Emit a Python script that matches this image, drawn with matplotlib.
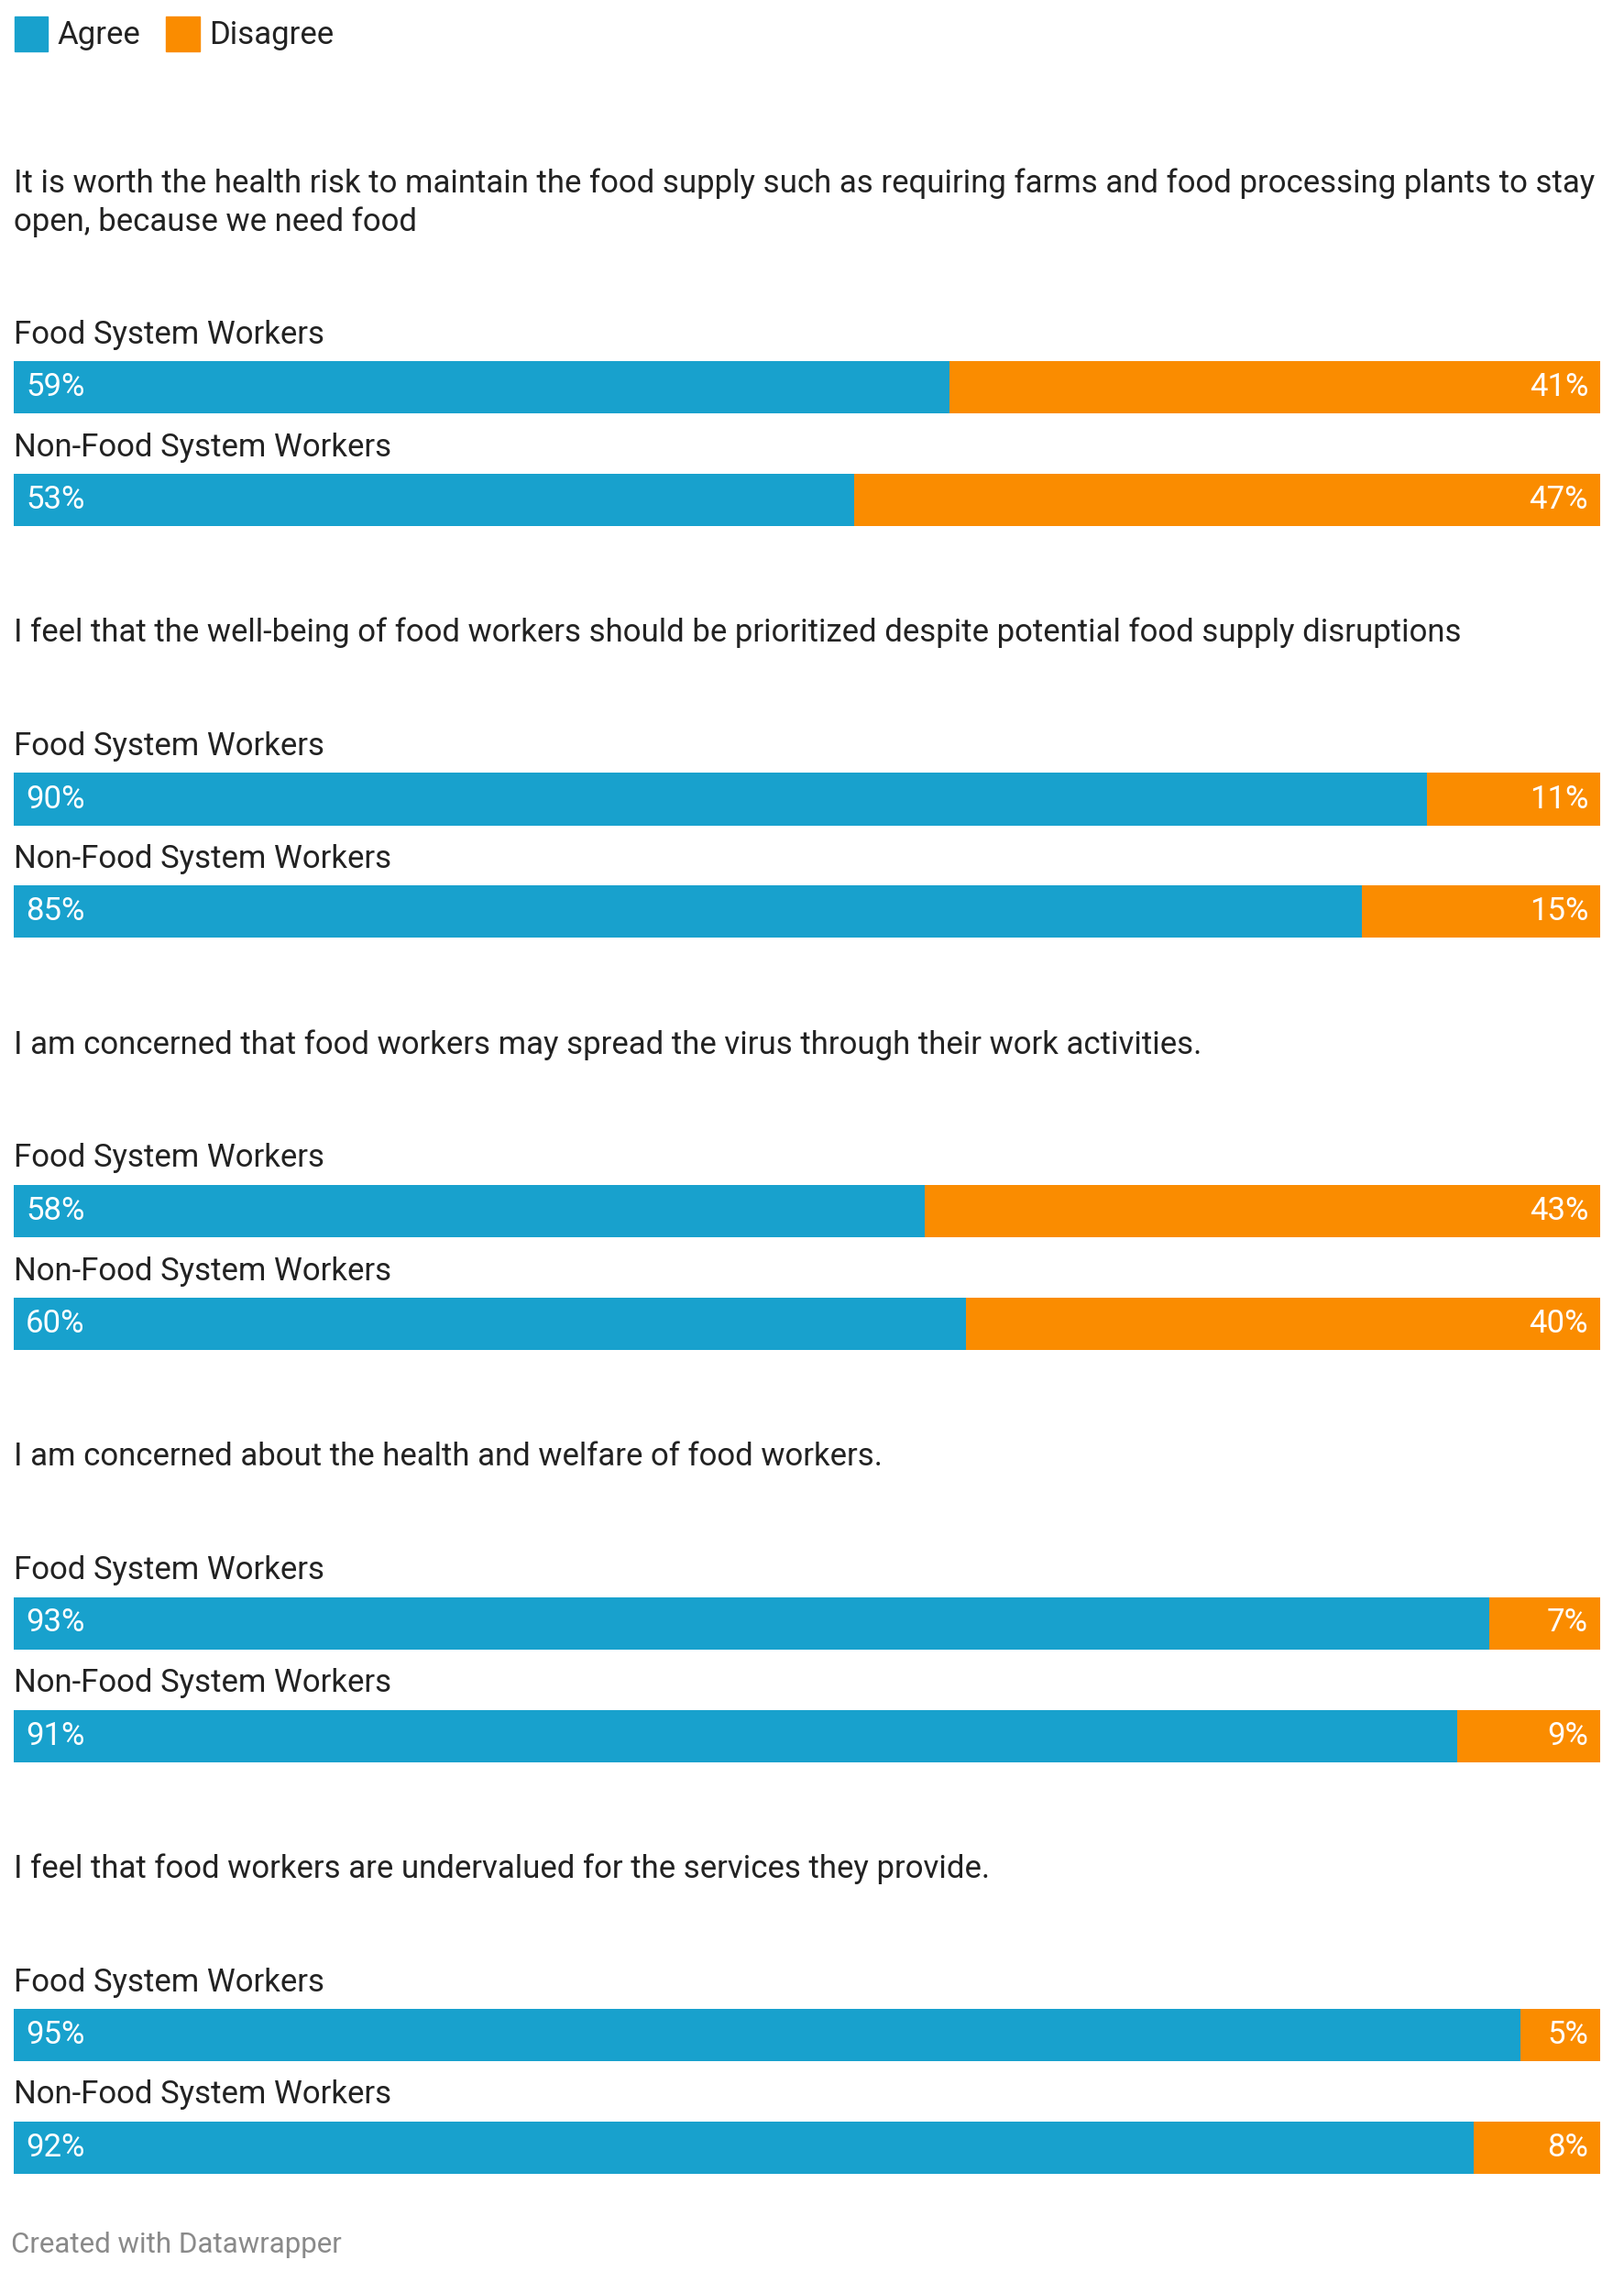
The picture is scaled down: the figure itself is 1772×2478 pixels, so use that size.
import matplotlib.pyplot as plt
from matplotlib.patches import Patch

plt.rcParams['font.family'] = ['Roboto', 'DejaVu Sans']

# data
questions = [
    'It is worth the health risk to maintain the food supply such as requiring farms and food processing plants to stay\nopen, because we need food',
    'I feel that the well-being of food workers should be prioritized despite potential food supply disruptions',
    'I am concerned that food workers may spread the virus through their work activities.',
    'I am concerned about the health and welfare of food workers.',
    'I feel that food workers are undervalued for the services they provide.',
]
groups = ['Food System Workers', 'Non-Food System Workers']
agree_fsw = [59, 90, 58, 93, 95]
disagree_fsw = [41, 11, 43, 7, 5]
agree_nfsw = [53, 85, 60, 91, 92]
disagree_nfsw = [47, 15, 40, 9, 8]

blue = '#18a1cd'
orange = '#fa8c00'
txt = '#222222'

W, H = 1772, 2478
fig = plt.figure(figsize=(W / 100, H / 100), dpi=100)
fs = 25

def fx(px):
    return px / W

def fy(py):
    return 1 - py / H

bar_left = 15
bar_w = 1731
bar_h = 57
first_top = 394
step = 449.5
second_off = 123

for i, q in enumerate(questions):
    top = first_top + i * step
    nlines = q.count('\n') + 1
    qy = top - 153 - (nlines - 1) * 20
    fig.text(fx(15), fy(qy), q, fontsize=fs, color=txt, va='center', ha='left',
             linespacing=1.3)
    rows = [(agree_fsw[i], disagree_fsw[i]), (agree_nfsw[i], disagree_nfsw[i])]
    for j, (a, d) in enumerate(rows):
        btop = top + j * second_off
        fig.text(fx(15), fy(btop - 29), groups[j], fontsize=fs, color=txt,
                 va='center', ha='left')
        ax = fig.add_axes([fx(bar_left), fy(btop + bar_h), fx(bar_w), bar_h / H])
        ax.barh(0, a, height=1, color=blue, left=0)
        ax.barh(0, d, height=1, color=orange, left=a)
        ax.set_xlim(0, a + d)
        ax.set_ylim(-0.5, 0.5)
        ax.axis('off')
        ax.text(0.0075, 0, f'{a}%', color='white', fontsize=fs, va='center', ha='left',
                transform=ax.get_yaxis_transform())
        ax.text(0.9925, 0, f'{d}%', color='white', fontsize=fs, va='center', ha='right',
                transform=ax.get_yaxis_transform())

handles = [Patch(color=blue, label='Agree'), Patch(color=orange, label='Disagree')]
fig.legend(handles=handles, loc='upper left', bbox_to_anchor=(fx(2), fy(4)), ncol=2,
           frameon=False, fontsize=fs, handlelength=1.05, handleheight=1.3,
           handletextpad=0.3, columnspacing=0.8, borderaxespad=0, labelcolor=txt)

fig.text(fx(12), fy(2449), 'Created with Datawrapper', fontsize=22.5, color='#8a8a8a',
         va='center', ha='left')

fig.savefig('out.png', dpi=100, facecolor='white')
